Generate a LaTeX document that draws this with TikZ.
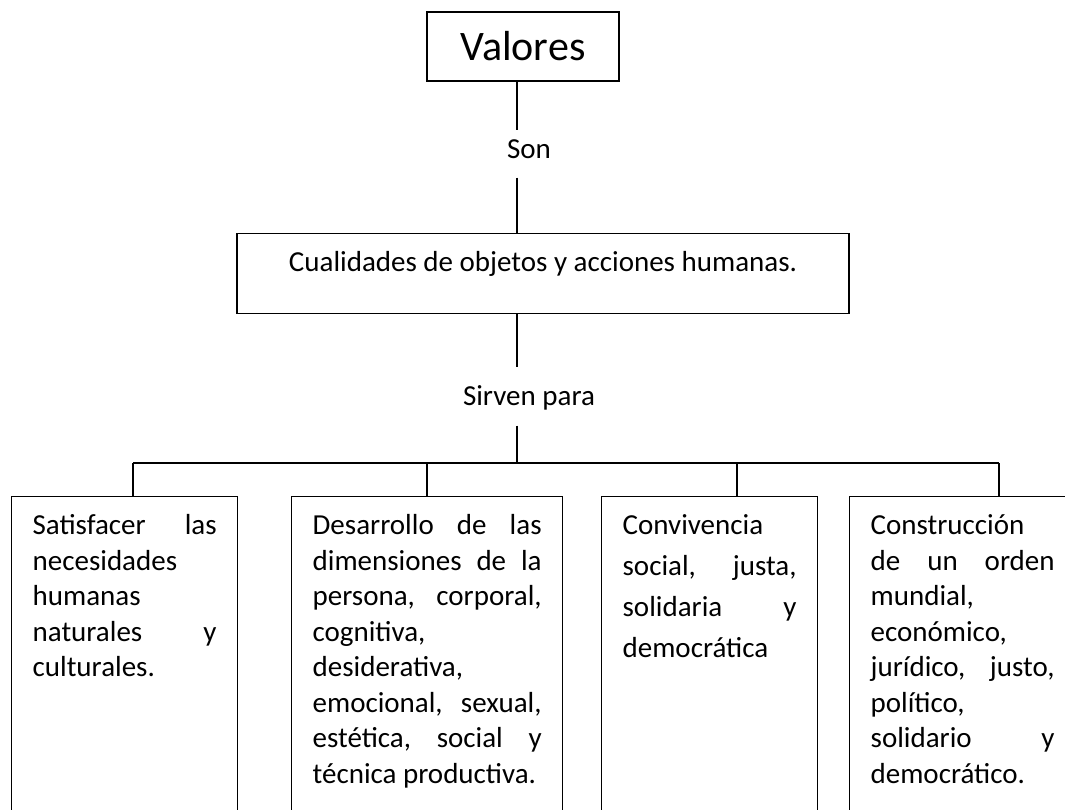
\documentclass[tikz,border=0pt]{standalone}
\usepackage{fontspec}
\setmainfont{Carlito}

\newcommand{\bodysize}{\fontsize{29}{35.5}\selectfont}
\newcommand{\topstrut}{\rule{0pt}{25pt}}

\begin{document}
\begin{tikzpicture}[x=1pt,y=-1pt,line width=1.3pt,
    box/.style={draw,line width=1.3pt,font=\bodysize},
    leafbox/.style={box,anchor=north west,inner xsep=21pt,inner ysep=13pt},
    linklabel/.style={inner sep=0pt,font=\bodysize}]

        \useasboundingbox (0,0) rectangle (1065,810);
        \clip (0,0) rectangle (1065,810);

        % Title and main definition
        \node[box,minimum width=192pt,minimum height=69pt,font=\fontsize{42}{50}\selectfont] (valores) at (523,46.5) {Valores};
        \node[linklabel,anchor=base,text height=28pt,text depth=18pt] (son) at (529,159) {Son};
        \node[box,anchor=north,minimum width=612pt,inner xsep=0pt,inner ysep=13pt,text height=25pt,text depth=29pt] (cual) at (543,233) {Cualidades de objetos y acciones humanas.};
        \node[linklabel,anchor=base,text height=37pt,text depth=20pt] (sirven) at (529,405) {Sirven para};

        % Trunk and branching bar
        \coordinate (trunk) at (517,0);
        \coordinate (b1) at (133,463);
        \coordinate (b2) at (427,463);
        \coordinate (b3) at (737,463);
        \coordinate (b4) at (999,463);

        \draw (valores.south -| trunk) -- (son.north -| trunk);
        \draw (son.south -| trunk) -- (cual.north -| trunk);
        \draw (cual.south -| trunk) -- (sirven.north -| trunk);
        \draw (sirven.south -| trunk) -- (trunk |- b1);
        \draw (b1) -- (b4);

        % Purposes (boxes run past the bottom edge)
        \node[leafbox] (satisf) at (11,496) {\parbox[t][330pt][t]{184pt}{\topstrut
            Satisfacer\hfill las\\
            necesidades\\
            humanas\\
            naturales\hfill y\\
            culturales.}};
        \node[leafbox] (desarr) at (291,496) {\parbox[t][330pt][t]{229pt}{\topstrut
            Desarrollo\hfill de\hfill las\\
            dimensiones\hfill de\hfill la\\
            persona,\hfill corporal,\\
            cognitiva,\\
            desiderativa,\\
            emocional,\hfill sexual,\\
            estética,\hfill social\hfill y\\
            técnica productiva.}};
        \node[leafbox] (conviv) at (601,496) {\parbox[t][330pt][t]{174pt}{\fontsize{29}{41}\selectfont\topstrut
            Convivencia\\
            social,\hfill justa,\\
            solidaria\hfill y\\
            democrática}};
        \node[leafbox] (constr) at (849,496) {\parbox[t][330pt][t]{184pt}{\topstrut
            Construcción\\
            de\hfill un\hfill orden\\
            mundial,\\
            económico,\\
            jurídico,\hfill justo,\\
            político,\\
            solidario\hfill y\\
            democrático.}};

        % Drops to the boxes
        \draw (b1) -- (b1 |- satisf.north);
        \draw (b2) -- (b2 |- desarr.north);
        \draw (b3) -- (b3 |- conviv.north);
        \draw (b4) -- (b4 |- constr.north);

    \end{tikzpicture}
\end{document}
